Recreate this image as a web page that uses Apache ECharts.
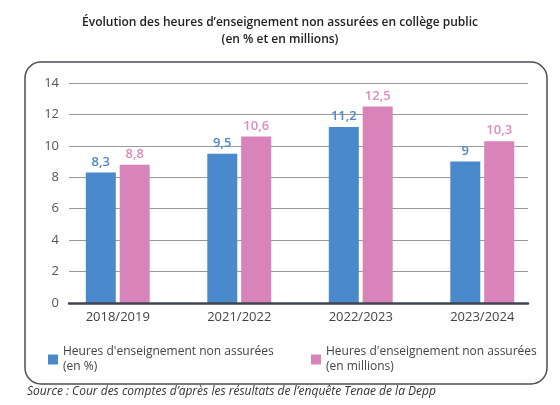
<!DOCTYPE html>
<html>
<head>
<meta charset="utf-8">
<script src="https://cdn.jsdelivr.net/npm/echarts@6/dist/echarts.min.js"></script>
<style>
  html, body { margin: 0; padding: 0; background: #fff; }
  #chart { width: 560px; height: 405px; }
</style>
</head>
<body>
<div id="chart"></div>
<script>
// données
var annees = ['2018/2019', '2021/2022', '2022/2023', '2023/2024'];
var heuresPct = [8.3, 9.5, 11.2, 9];
var heuresMillions = [8.8, 10.6, 12.5, 10.3];
var nomPct = "Heures d'enseignement non assurées\n(en %)";
var nomMillions = "Heures d'enseignement non assurées\n(en millions)";

var BLEU = '#4a89cb';
var ROSE = '#d883b9';
var police = "'Open Sans', 'Noto Sans', sans-serif";

var chart = echarts.init(document.getElementById('chart'));

function virgule(p) {
	return String(p.value).replace('.', ',');
}

var styleLegende = {
	fontFamily : police,
	fontSize : 12,
	color : '#444',
	lineHeight : 15,
	padding : [ 15, 0, 0, 0 ]
};

var option = {
	textStyle : { fontFamily : police },
	title : {
		text : 'Évolution des heures d’enseignement non assurées en collège public\n(en % et en millions)',
		left : 'center',
		top : 9,
		textStyle : {
			fontFamily : police,
			fontSize : 12,
			fontWeight : 600,
			color : '#222',
			lineHeight : 17
		}
	},
	legend : [ {
		data : [ nomPct ],
		left : 43,
		top : 332,
		itemWidth : 10,
		itemHeight : 10,
		itemGap : 6,
		icon : 'rect',
		selectedMode : false,
		textStyle : styleLegende
	}, {
		data : [ nomMillions ],
		left : 306,
		top : 332,
		itemWidth : 10,
		itemHeight : 10,
		icon : 'rect',
		selectedMode : false,
		textStyle : styleLegende
	} ],
	grid : [
		// grille des barres
		{ left : 57, right : 17, top : 83, bottom : 102 },
		// grille des lignes horizontales
		{ left : 69, right : 32, top : 83, bottom : 102 }
	],
	xAxis : [ {
		gridIndex : 0,
		type : 'category',
		data : annees,
		axisLine : { show : false },
		axisTick : { show : false },
		axisLabel : { fontFamily : police, fontSize : 13, color : '#444', margin : 8 }
	}, {
		gridIndex : 1,
		type : 'category',
		data : annees,
		axisLine : { show : true, lineStyle : { color : '#3f4550', width : 2.5 } },
		axisTick : { show : false },
		axisLabel : { show : false },
		z : 5
	} ],
	yAxis : [ {
		gridIndex : 0,
		type : 'value',
		min : 0,
		max : 14,
		interval : 2,
		show : false
	}, {
		gridIndex : 1,
		type : 'value',
		min : 0,
		max : 14,
		interval : 2,
		axisLine : { show : false },
		axisTick : { show : false },
		axisLabel : { fontFamily : police, fontSize : 13, color : '#555', margin : 10 },
		splitLine : { lineStyle : { color : '#9a9a9a', width : 1 } }
	} ],
	series : [ {
		name : nomPct,
		type : 'bar',
		xAxisIndex : 0,
		yAxisIndex : 0,
		data : heuresPct,
		barWidth : 30,
		barGap : '13%',
		itemStyle : { color : BLEU },
		label : {
			show : true,
			position : 'top',
			distance : 4,
			formatter : virgule,
			fontFamily : police,
			fontSize : 13,
			fontWeight : 600,
			color : '#4f88c6'
		},
		z : 3
	}, {
		name : nomMillions,
		type : 'bar',
		xAxisIndex : 0,
		yAxisIndex : 0,
		data : heuresMillions,
		barWidth : 30,
		itemStyle : { color : ROSE },
		label : {
			show : true,
			position : 'top',
			distance : 4,
			formatter : virgule,
			fontFamily : police,
			fontSize : 13,
			fontWeight : 600,
			color : '#df8cc3'
		},
		z : 3
	} ],
	graphic : [ {
		type : 'rect',
		shape : { x : 25, y : 62, width : 522, height : 322, r : 16 },
		style : { fill : null, stroke : '#4a4f57', lineWidth : 1.5 },
		silent : true
	}, {
		type : 'text',
		left : 27,
		top : 386,
		style : {
			text : 'Source : Cour des comptes d’après les résultats de l’enquête Tenae de la Depp',
			font : 'italic 12px ' + police,
			fill : '#333'
		}
	} ],
	animation : false
};

chart.setOption(option);
</script>
</body>
</html>
